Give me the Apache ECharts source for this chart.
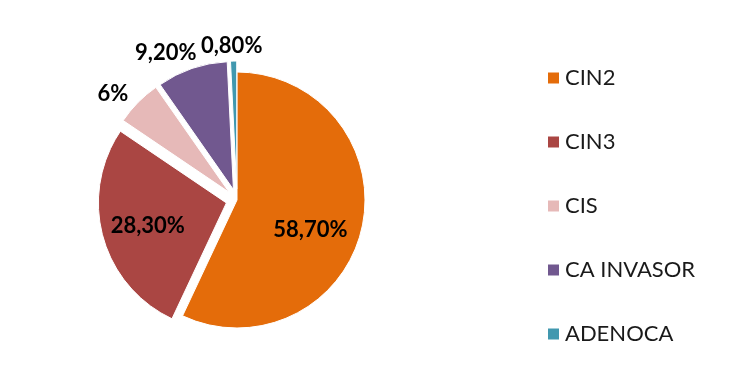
<!DOCTYPE html>
<html><head><meta charset="utf-8">
<style>html,body{margin:0;padding:0;background:#fff}#c{width:756px;height:387px}</style>
<script src="https://cdn.jsdelivr.net/npm/echarts@6/dist/echarts.min.js"></script>
</head><body><div id="c"></div>
<script>
const categories = ['CIN2', 'CIN3', 'CIS', 'CA INVASOR', 'ADENOCA'];
const values = [58.7, 28.3, 6, 9.2, 0.8];
const valueLabels = ['58,70%', '28,30%', '6%', '9,20%', '0,80%'];
const colors = ['#E46C0A', '#AA4643', '#E6B9B8', '#71588F', '#4198AF'];
const exploded = [false, true, true, true, true];
const inside = [true, true, false, false, false];
// small label nudges (px) to match reference label placement
const labelNudge = [[8, 15], [-14, 5], [1, -3], [12, -8], [34, -7]];

const chart = echarts.init(document.getElementById('c'));
chart.setOption({
  animation: false,
  legend: {
    orient: 'vertical', left: 541, top: 62, itemGap: 42,
    itemWidth: 13, itemHeight: 13, icon: 'rect',
    textStyle: { fontFamily: 'Lato', fontSize: 22, lineHeight: 22, color: '#1a1a1a' },
    data: categories
  },
  series: [{
    type: 'pie', center: [237, 200], radius: 128, startAngle: 90, clockwise: true,
    selectedMode: 'multiple', selectedOffset: 11,
    avoidLabelOverlap: false,
    itemStyle: { borderColor: '#fff', borderWidth: 1 },
    labelLine: { show: false, length: 8, length2: 0 },
    labelLayout: (p) => ({ dx: labelNudge[p.dataIndex][0], dy: labelNudge[p.dataIndex][1], hideOverlap: false }),
    emphasis: { disabled: true },
    data: categories.map((n, i) => ({
      name: n, value: values[i], selected: exploded[i],
      itemStyle: { color: colors[i] },
      label: {
        show: true, position: inside[i] ? 'inside' : 'outside',
        formatter: valueLabels[i],
        fontFamily: 'Lato', fontWeight: 'bold', fontSize: 22, color: '#000'
      }
    }))
  }]
});
</script></body></html>
